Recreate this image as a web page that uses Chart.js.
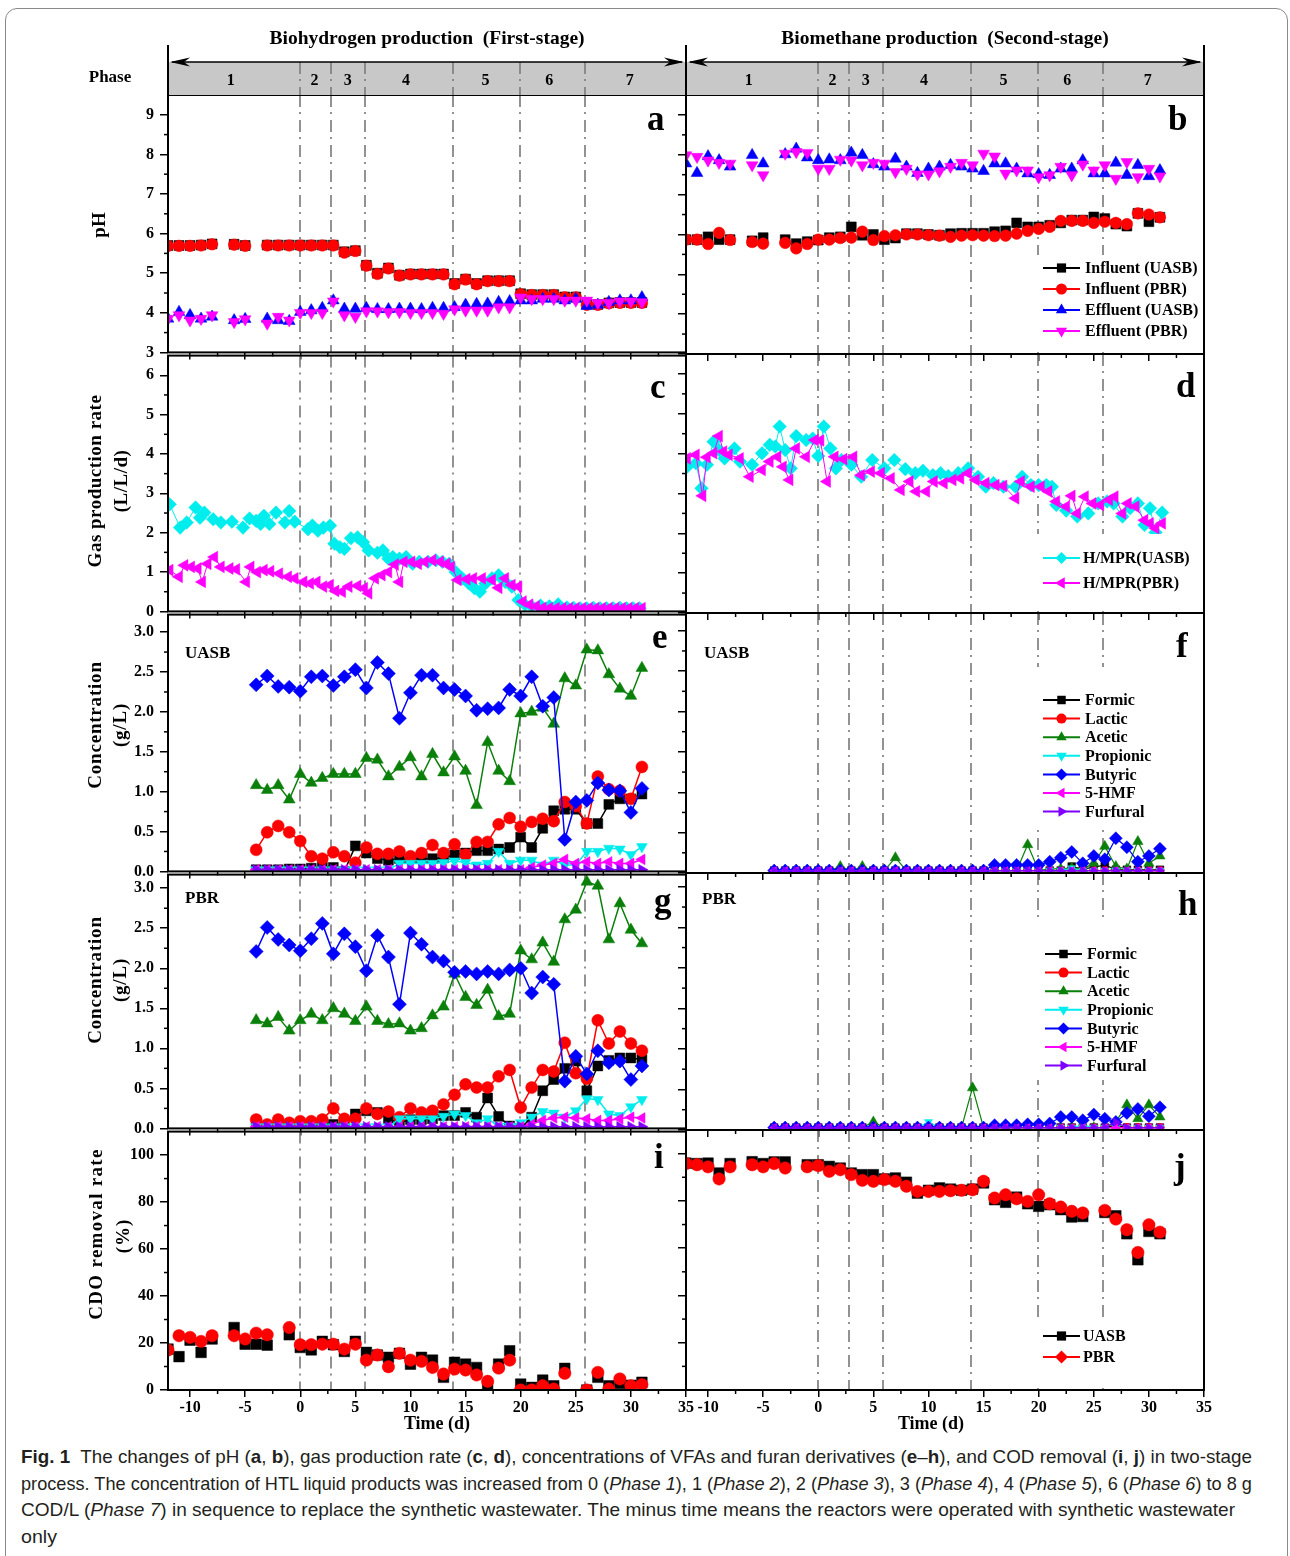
<!DOCTYPE html>
<html>
<head>
<meta charset="utf-8">
<title>Two-stage HTL process</title>
<script src="https://cdn.jsdelivr.net/npm/chart.js@4.4.1/dist/chart.umd.min.js"></script>
<style>
html, body { margin: 0; padding: 0; background: #fff; }
body { width: 1290px; height: 1556px; position: relative; overflow: hidden; }
#frame { position: absolute; left: 5px; top: 8px; width: 1283px; height: 1620px; border: 1px solid #8a8a8a; border-radius: 12px; box-sizing: border-box; }
canvas { position: absolute; }
#caption { position: absolute; left: 21px; top: 1444px; font-family: "Liberation Sans Narrow", "Liberation Sans", sans-serif; font-size: 19px; line-height: 26.7px; color: #231f20; white-space: nowrap; }
#caption .line { display: inline-block; transform-origin: 0 50%; }
#caption .fig { font-weight: bold; }
</style>
</head>
<body>
<div id="frame"></div>
<div id="caption"><span class="line" data-w="1231"><span class="fig">Fig. 1</span>&nbsp; The changes of pH (<b>a</b>, <b>b</b>), gas production rate (<b>c</b>, <b>d</b>), concentrations of VFAs and furan derivatives (<b>e</b>–<b>h</b>), and COD removal (<b>i</b>, <b>j</b>) in two-stage</span><br><span class="line" data-w="1231">process. The concentration of HTL liquid products was increased from 0 (<i>Phase 1</i>), 1 (<i>Phase 2</i>), 2 (<i>Phase 3</i>), 3 (<i>Phase 4</i>), 4 (<i>Phase 5</i>), 6 (<i>Phase 6</i>) to 8 g</span><br><span class="line" data-w="1214">COD/L (<i>Phase 7</i>) in sequence to replace the synthetic wastewater. The minus time means the reactors were operated with synthetic wastewater</span><br><span class="line" data-w="36">only</span></div>
<script>
'use strict';

// ============================================================================
// AXES / PHASES
// ============================================================================

const DAY_MIN = -12;
const DAY_MAX = 35;
const DAY_TICKS = [-10, -5, 0, 5, 10, 15, 20, 25, 30, 35];
const PHASE_BOUNDS = [0, 2.8, 5.9, 13.9, 19.95, 25.85];
const PHASE_NAMES = ['1', '2', '3', '4', '5', '6', '7'];
const PHASE_NAME_DAYS = [-6.3, 1.3, 4.3, 9.6, 16.8, 22.6, 29.9];

const PH_TICKS = [3, 4, 5, 6, 7, 8, 9];
const GAS_TICKS = [0, 1, 2, 3, 4, 5, 6];
const CONC_TICKS = [0, 0.5, 1, 1.5, 2, 2.5, 3];
const COD_TICKS = [0, 20, 40, 60, 80, 100];

// ============================================================================
// DATA
// ============================================================================

// pH, panels a / b
const PH_DAYS = [-12, -11, -10, -9, -8, -6, -5, -3, -2, -1, 0, 1, 2, 3, 4, 5, 6, 7, 8, 9, 10, 11, 12, 13, 14, 15, 16, 17, 18, 19, 20, 21, 22, 23, 24, 25, 26, 27, 28, 29, 30, 31];
const PH_INF_UASB_A = [5.70, 5.70, 5.70, 5.71, 5.74, 5.73, 5.70, 5.71, 5.71, 5.71, 5.71, 5.71, 5.71, 5.71, 5.54, 5.57, 5.20, 5.00, 5.13, 4.95, 4.98, 4.98, 4.98, 4.98, 4.74, 4.85, 4.74, 4.81, 4.81, 4.81, 4.48, 4.46, 4.46, 4.46, 4.40, 4.40, 4.22, 4.21, 4.25, 4.26, 4.26, 4.26];
const PH_INF_PBR_A = [5.69, 5.69, 5.69, 5.70, 5.73, 5.72, 5.69, 5.70, 5.70, 5.70, 5.70, 5.70, 5.70, 5.70, 5.52, 5.56, 5.19, 4.98, 5.12, 4.94, 4.97, 4.97, 4.97, 4.97, 4.72, 4.84, 4.72, 4.80, 4.80, 4.80, 4.47, 4.45, 4.45, 4.45, 4.39, 4.39, 4.20, 4.20, 4.24, 4.25, 4.25, 4.25];
const PH_EFF_UASB_A = [3.85, 4.02, 3.94, 3.85, 3.90, 3.81, 3.84, 3.85, 3.81, 3.79, 4.02, 4.06, 4.12, 4.31, 4.10, 4.10, 4.12, 4.09, 4.09, 4.10, 4.10, 4.09, 4.12, 4.12, 4.14, 4.20, 4.22, 4.23, 4.27, 4.29, 4.31, 4.31, 4.35, 4.35, 4.31, 4.35, 4.17, 4.20, 4.27, 4.31, 4.31, 4.39];
const PH_EFF_PBR_A = [3.85, 3.94, 3.81, 3.85, 3.94, 3.77, 3.84, 3.73, 3.90, 3.81, 4.00, 4.00, 4.00, 4.29, 3.94, 3.90, 4.04, 4.04, 4.02, 4.02, 4.00, 4.00, 4.00, 3.98, 4.09, 4.06, 4.06, 4.06, 4.14, 4.14, 4.39, 4.35, 4.35, 4.35, 4.31, 4.31, 4.31, 4.25, 4.25, 4.29, 4.29, 4.27];
const PH_INF_UASB_B = [5.87, 5.87, 5.94, 5.87, 5.87, 5.84, 5.92, 5.87, 5.77, 5.82, 5.86, 5.92, 5.94, 6.19, 5.98, 6.00, 5.87, 5.91, 6.02, 6.02, 6.00, 5.98, 6.02, 6.03, 6.03, 6.03, 6.07, 6.09, 6.29, 6.19, 6.19, 6.23, 6.29, 6.36, 6.36, 6.44, 6.40, 6.26, 6.21, 6.53, 6.32, 6.43];
const PH_INF_PBR_B = [5.87, 5.87, 5.76, 6.04, 5.86, 5.81, 5.77, 5.79, 5.65, 5.76, 5.87, 5.87, 5.91, 5.92, 6.07, 5.86, 5.96, 5.98, 6.00, 6.00, 5.98, 5.97, 5.94, 5.97, 5.98, 5.97, 5.96, 5.97, 6.02, 6.09, 6.14, 6.19, 6.34, 6.34, 6.34, 6.29, 6.32, 6.29, 6.26, 6.53, 6.50, 6.43];
const PH_EFF_UASB_B = [7.78, 7.54, 7.96, 7.86, 7.70, 7.99, 7.78, 8.01, 8.15, 7.93, 7.86, 7.88, 7.86, 8.05, 7.99, 7.76, 7.70, 7.90, 7.70, 7.54, 7.65, 7.70, 7.74, 7.70, 7.65, 7.59, 7.78, 7.78, 7.65, 7.53, 7.51, 7.49, 7.65, 7.65, 7.86, 7.53, 7.53, 7.80, 7.49, 7.74, 7.46, 7.61];
const PH_EFF_PBR_B = [7.99, 7.95, 7.86, 7.80, 7.78, 7.74, 7.49, 8.03, 8.07, 8.05, 7.65, 7.65, 7.88, 7.86, 7.74, 7.80, 7.78, 7.57, 7.65, 7.51, 7.51, 7.59, 7.70, 7.80, 7.74, 8.03, 7.96, 7.53, 7.61, 7.61, 7.44, 7.49, 7.70, 7.49, 7.76, 7.61, 7.74, 7.40, 7.82, 7.44, 7.65, 7.46];

// gas production rate, panel c (first stage)
const GAS_UASB_C_DAYS = [-11.85, -10.9, -10.3, -9.5, -9.1, -8.7, -7.9, -7.2, -6.2, -5.2, -4.6, -4.0, -3.6, -3.3, -2.8, -2.2, -1.4, -1.0, -0.5, 0.7, 1.1, 1.6, 2.1, 2.7, 3.1, 3.6, 4.0, 4.6, 5.2, 5.7, 6.2, 7.0, 7.5, 8.0, 8.4, 9.0, 9.6, 10.2, 10.8, 11.6, 12.3, 12.9, 13.5, 14.1, 14.7, 15.3, 15.8, 16.3, 16.8, 17.4, 18.0, 18.6, 19.2, 19.8, 20.4, 21.0, 21.8, 22.6, 23.4, 24.2, 24.8, 25.4, 26.0, 26.6, 27.2, 27.8, 28.4, 29.0, 29.6, 30.2, 30.8];
const GAS_UASB_C = [2.72, 2.13, 2.26, 2.64, 2.38, 2.51, 2.34, 2.26, 2.28, 2.13, 2.36, 2.30, 2.22, 2.43, 2.22, 2.51, 2.26, 2.55, 2.28, 2.09, 2.18, 2.05, 2.13, 2.18, 1.72, 1.63, 1.59, 1.86, 1.88, 1.76, 1.55, 1.49, 1.55, 1.34, 1.38, 1.34, 1.38, 1.21, 1.26, 1.26, 1.30, 1.26, 1.21, 1.00, 0.84, 0.71, 0.59, 0.50, 0.71, 0.84, 0.92, 0.75, 0.63, 0.29, 0.17, 0.13, 0.15, 0.13, 0.18, 0.10, 0.09, 0.08, 0.08, 0.09, 0.08, 0.08, 0.08, 0.09, 0.08, 0.08, 0.08];
const GAS_PBR_C_DAYS = [-11.85, -11.0, -10.5, -9.9, -9.3, -8.9, -8.4, -7.8, -7.2, -6.4, -5.8, -4.9, -4.5, -3.9, -3.3, -2.7, -1.9, -1.1, -0.5, 0.3, 0.9, 1.5, 2.1, 2.7, 3.2, 3.8, 4.4, 5.2, 5.8, 6.2, 6.8, 7.4, 8.0, 8.6, 9.0, 9.4, 10.1, 10.7, 11.3, 12.0, 12.7, 13.3, 13.7, 14.3, 15.1, 15.7, 16.5, 17.4, 18.0, 18.6, 19.2, 19.8, 20.2, 20.8, 21.4, 22.0, 22.6, 23.2, 23.8, 24.4, 25.0, 25.6, 26.2, 26.8, 27.4, 28.0, 28.6, 29.2, 29.8, 30.4, 31.0];
const GAS_PBR_C = [1.05, 0.88, 1.17, 1.13, 1.09, 0.75, 1.21, 1.38, 1.13, 1.09, 1.07, 0.75, 1.13, 1.00, 1.05, 1.02, 0.96, 0.88, 0.84, 0.75, 0.71, 0.75, 0.63, 0.67, 0.52, 0.50, 0.63, 0.65, 0.59, 0.46, 0.84, 0.92, 1.00, 1.19, 0.75, 1.26, 1.26, 1.21, 1.26, 1.30, 1.26, 1.21, 1.13, 0.80, 0.82, 0.84, 0.84, 0.80, 0.60, 0.84, 0.67, 0.63, 0.25, 0.17, 0.13, 0.09, 0.08, 0.08, 0.08, 0.08, 0.08, 0.08, 0.08, 0.08, 0.08, 0.08, 0.08, 0.08, 0.08, 0.08, 0.08];

// gas production rate, panel d (second stage)
const GAS_UASB_D_DAYS = [-11.9, -11.1, -10.6, -10.1, -9.5, -9.0, -8.5, -7.6, -7.1, -6.0, -5.1, -4.4, -3.9, -3.5, -3.0, -2.5, -2.0, -1.1, -0.5, 0.0, 0.5, 1.1, 1.6, 2.1, 3.0, 3.9, 4.9, 6.0, 6.9, 7.9, 8.8, 9.5, 10.4, 11.1, 11.8, 12.7, 13.6, 14.5, 15.2, 15.9, 16.8, 17.9, 18.5, 19.3, 20.0, 20.7, 21.2, 21.6, 22.5, 23.5, 24.5, 25.4, 26.2, 26.8, 27.6, 28.3, 29.0, 29.6, 30.1, 30.6, 31.2];
const GAS_UASB_D = [3.67, 3.76, 3.13, 3.72, 4.30, 4.09, 3.88, 4.13, 3.80, 3.72, 4.01, 4.22, 4.18, 4.68, 4.09, 3.63, 4.44, 4.34, 4.38, 3.94, 4.68, 4.13, 3.63, 3.84, 3.72, 3.42, 3.84, 3.63, 3.84, 3.61, 3.51, 3.57, 3.46, 3.51, 3.44, 3.51, 3.63, 3.42, 3.17, 3.26, 3.17, 3.17, 3.42, 3.21, 3.21, 3.21, 3.17, 2.71, 2.57, 2.42, 2.50, 2.75, 2.80, 2.75, 2.42, 2.63, 2.75, 2.21, 2.63, 2.02, 2.52];
const GAS_PBR_D_DAYS = [-11.9, -11.1, -10.5, -10.1, -9.5, -9.0, -8.6, -8.1, -7.1, -6.2, -5.1, -4.4, -3.7, -3.2, -2.6, -2.0, -1.1, -0.3, 0.2, 0.8, 1.5, 2.3, 3.2, 3.9, 4.8, 5.7, 6.6, 7.5, 8.3, 8.9, 9.8, 10.5, 11.4, 12.2, 12.9, 13.6, 14.3, 15.2, 16.1, 16.8, 17.9, 18.4, 19.3, 20.2, 20.9, 21.6, 22.5, 23.0, 23.5, 24.2, 24.9, 25.6, 26.4, 26.9, 27.6, 28.1, 28.8, 29.6, 30.1, 30.6, 31.2];
const GAS_PBR_D = [3.88, 3.97, 2.94, 3.91, 4.01, 4.44, 4.05, 3.97, 3.88, 3.42, 3.59, 3.80, 3.92, 3.67, 3.34, 4.13, 3.92, 4.34, 4.33, 3.30, 3.92, 3.86, 3.92, 3.46, 3.55, 3.51, 3.38, 3.09, 3.30, 3.05, 3.05, 3.30, 3.26, 3.34, 3.38, 3.51, 3.34, 3.26, 3.21, 3.19, 2.88, 3.30, 3.17, 3.17, 3.05, 2.80, 2.67, 2.94, 2.50, 2.92, 2.75, 2.71, 2.84, 2.92, 2.50, 2.75, 2.67, 2.33, 2.25, 2.13, 2.25];

// VFAs and furans, panels e-h
const VFA_DAYS = [-4, -3, -2, -1, 0, 1, 2, 3, 4, 5, 6, 7, 8, 9, 10, 11, 12, 13, 14, 15, 16, 17, 18, 19, 20, 21, 22, 23, 24, 25, 26, 27, 28, 29, 30, 31];

const FORMIC_E = [0.02, 0.02, 0.02, 0.03, 0.03, 0.04, 0.06, 0.05, 0.00, 0.32, 0.23, 0.16, 0.14, 0.16, 0.16, 0.16, 0.16, 0.17, 0.21, 0.23, 0.26, 0.26, 0.28, 0.30, 0.43, 0.30, 0.54, 0.76, 0.78, 0.78, 0.60, 0.60, 0.84, 0.91, 0.91, 0.97];
const LACTIC_E = [0.27, 0.49, 0.57, 0.49, 0.38, 0.19, 0.16, 0.24, 0.19, 0.11, 0.30, 0.22, 0.22, 0.25, 0.19, 0.23, 0.33, 0.23, 0.34, 0.21, 0.37, 0.37, 0.59, 0.67, 0.56, 0.62, 0.66, 0.63, 0.87, 0.82, 0.60, 1.19, 1.03, 1.01, 0.91, 1.31];
const ACETIC_E = [1.08, 1.02, 1.08, 0.90, 1.22, 1.11, 1.17, 1.22, 1.22, 1.22, 1.42, 1.40, 1.19, 1.31, 1.43, 1.19, 1.47, 1.24, 1.44, 1.26, 0.83, 1.62, 1.26, 1.13, 1.98, 2.00, 2.05, 1.85, 2.42, 2.33, 2.78, 2.77, 2.47, 2.29, 2.20, 2.55];
const PROPIONIC_E = [0.02, 0.02, 0.02, 0.02, 0.02, 0.02, 0.02, 0.02, 0.02, 0.02, 0.02, 0.02, 0.02, 0.10, 0.10, 0.10, 0.10, 0.11, 0.13, 0.11, 0.08, 0.10, 0.25, 0.10, 0.14, 0.14, 0.08, 0.14, 0.08, 0.08, 0.25, 0.25, 0.29, 0.28, 0.21, 0.31];
const BUTYRIC_E = [2.34, 2.45, 2.32, 2.31, 2.26, 2.44, 2.45, 2.33, 2.44, 2.53, 2.30, 2.62, 2.48, 1.92, 2.24, 2.46, 2.46, 2.30, 2.28, 2.20, 2.02, 2.04, 2.05, 2.28, 2.20, 2.44, 2.07, 2.18, 0.40, 0.87, 0.89, 1.11, 1.02, 1.01, 0.74, 1.04];
const HMF_E = [0.02, 0.02, 0.02, 0.02, 0.02, 0.02, 0.02, 0.02, 0.02, 0.02, 0.02, 0.02, 0.02, 0.02, 0.02, 0.02, 0.02, 0.02, 0.02, 0.02, 0.02, 0.02, 0.02, 0.02, 0.02, 0.05, 0.08, 0.10, 0.15, 0.10, 0.12, 0.10, 0.12, 0.10, 0.10, 0.15];
const FURFURAL_E = [0.02, 0.02, 0.02, 0.02, 0.02, 0.02, 0.02, 0.02, 0.02, 0.02, 0.02, 0.02, 0.02, 0.02, 0.02, 0.02, 0.02, 0.02, 0.02, 0.02, 0.02, 0.02, 0.02, 0.02, 0.02, 0.02, 0.02, 0.02, 0.02, 0.02, 0.02, 0.02, 0.02, 0.02, 0.02, 0.02];

const FORMIC_G = [0.02, 0.02, 0.02, 0.02, 0.02, 0.03, 0.07, 0.05, 0.07, 0.18, 0.22, 0.20, 0.12, 0.07, 0.11, 0.11, 0.12, 0.16, 0.16, 0.20, 0.14, 0.38, 0.15, 0.03, 0.00, 0.14, 0.47, 0.61, 0.75, 0.84, 0.47, 0.78, 0.85, 0.88, 0.88, 0.86];
const LACTIC_G = [0.11, 0.05, 0.11, 0.07, 0.09, 0.09, 0.11, 0.25, 0.12, 0.12, 0.25, 0.18, 0.21, 0.14, 0.25, 0.20, 0.22, 0.30, 0.42, 0.55, 0.51, 0.51, 0.65, 0.73, 0.26, 0.51, 0.73, 0.71, 1.07, 0.69, 0.62, 1.35, 1.06, 1.21, 1.06, 0.97];
const ACETIC_G = [1.35, 1.31, 1.39, 1.22, 1.35, 1.43, 1.35, 1.50, 1.43, 1.34, 1.52, 1.34, 1.30, 1.31, 1.22, 1.25, 1.41, 1.52, 1.93, 1.64, 1.54, 1.73, 1.40, 1.43, 2.22, 2.11, 2.32, 2.08, 2.61, 2.73, 3.08, 3.03, 2.36, 2.81, 2.48, 2.31];
const PROPIONIC_G = [0.02, 0.02, 0.02, 0.02, 0.02, 0.02, 0.02, 0.02, 0.02, 0.02, 0.02, 0.02, 0.02, 0.12, 0.12, 0.12, 0.12, 0.15, 0.18, 0.16, 0.07, 0.12, 0.03, 0.03, 0.07, 0.14, 0.21, 0.19, 0.14, 0.22, 0.37, 0.36, 0.18, 0.16, 0.27, 0.36];
const BUTYRIC_G = [2.21, 2.51, 2.36, 2.29, 2.22, 2.37, 2.56, 2.18, 2.43, 2.27, 1.97, 2.41, 2.14, 1.55, 2.44, 2.30, 2.14, 2.09, 1.95, 1.96, 1.93, 1.96, 1.93, 1.98, 2.00, 1.69, 1.89, 1.80, 0.59, 0.90, 0.68, 0.97, 0.82, 0.84, 0.61, 0.78];
const HMF_G = [0.02, 0.02, 0.02, 0.02, 0.02, 0.02, 0.02, 0.02, 0.02, 0.02, 0.02, 0.02, 0.02, 0.02, 0.02, 0.02, 0.02, 0.02, 0.02, 0.02, 0.02, 0.02, 0.02, 0.02, 0.02, 0.05, 0.10, 0.13, 0.14, 0.13, 0.12, 0.10, 0.10, 0.12, 0.14, 0.13];
const FURFURAL_G = [0.02, 0.02, 0.02, 0.02, 0.02, 0.02, 0.02, 0.02, 0.02, 0.02, 0.02, 0.02, 0.02, 0.02, 0.02, 0.02, 0.02, 0.02, 0.02, 0.02, 0.02, 0.02, 0.02, 0.02, 0.02, 0.02, 0.02, 0.02, 0.02, 0.02, 0.02, 0.02, 0.02, 0.02, 0.02, 0.02];

const FORMIC_F = [0.03, 0.03, 0.03, 0.03, 0.03, 0.03, 0.03, 0.03, 0.03, 0.03, 0.03, 0.03, 0.03, 0.03, 0.03, 0.03, 0.03, 0.03, 0.03, 0.03, 0.03, 0.03, 0.03, 0.03, 0.03, 0.03, 0.03, 0.08, 0.05, 0.07, 0.10, 0.04, 0.04, 0.04, 0.04, 0.04];
const LACTIC_F = [0.03, 0.03, 0.03, 0.03, 0.03, 0.03, 0.03, 0.03, 0.03, 0.03, 0.03, 0.03, 0.03, 0.03, 0.03, 0.03, 0.03, 0.03, 0.03, 0.03, 0.03, 0.03, 0.03, 0.03, 0.03, 0.03, 0.03, 0.03, 0.03, 0.03, 0.03, 0.03, 0.03, 0.03, 0.03, 0.03];
const ACETIC_F = [0.03, 0.03, 0.03, 0.03, 0.03, 0.03, 0.08, 0.03, 0.08, 0.03, 0.03, 0.19, 0.03, 0.03, 0.03, 0.03, 0.03, 0.03, 0.03, 0.03, 0.03, 0.03, 0.03, 0.35, 0.03, 0.05, 0.05, 0.06, 0.05, 0.12, 0.33, 0.08, 0.05, 0.39, 0.12, 0.21];
const PROPIONIC_F = [0.03, 0.03, 0.03, 0.03, 0.03, 0.03, 0.03, 0.03, 0.03, 0.03, 0.03, 0.03, 0.03, 0.03, 0.03, 0.03, 0.03, 0.03, 0.03, 0.03, 0.03, 0.03, 0.03, 0.03, 0.03, 0.03, 0.03, 0.06, 0.03, 0.03, 0.03, 0.03, 0.03, 0.03, 0.03, 0.03];
const BUTYRIC_F = [0.03, 0.03, 0.03, 0.03, 0.03, 0.03, 0.03, 0.03, 0.03, 0.03, 0.03, 0.03, 0.03, 0.03, 0.03, 0.03, 0.03, 0.03, 0.03, 0.03, 0.10, 0.10, 0.10, 0.10, 0.10, 0.14, 0.19, 0.26, 0.12, 0.21, 0.17, 0.43, 0.32, 0.14, 0.21, 0.30];
const HMF_F = [0.03, 0.03, 0.03, 0.03, 0.03, 0.03, 0.03, 0.03, 0.03, 0.03, 0.03, 0.03, 0.03, 0.03, 0.03, 0.03, 0.03, 0.03, 0.03, 0.03, 0.03, 0.03, 0.03, 0.03, 0.03, 0.03, 0.03, 0.03, 0.03, 0.03, 0.03, 0.03, 0.03, 0.03, 0.03, 0.03];
const FURFURAL_F = [0.03, 0.03, 0.03, 0.03, 0.03, 0.03, 0.03, 0.03, 0.03, 0.03, 0.03, 0.03, 0.03, 0.03, 0.03, 0.03, 0.03, 0.03, 0.03, 0.03, 0.03, 0.03, 0.03, 0.03, 0.03, 0.03, 0.03, 0.03, 0.03, 0.03, 0.03, 0.03, 0.03, 0.03, 0.03, 0.03];

const FORMIC_H = [0.03, 0.03, 0.03, 0.03, 0.03, 0.03, 0.03, 0.03, 0.03, 0.03, 0.03, 0.03, 0.03, 0.03, 0.03, 0.03, 0.03, 0.03, 0.03, 0.03, 0.03, 0.03, 0.03, 0.03, 0.03, 0.03, 0.03, 0.03, 0.03, 0.03, 0.03, 0.06, 0.03, 0.03, 0.03, 0.03];
const LACTIC_H = [0.03, 0.03, 0.03, 0.03, 0.03, 0.03, 0.03, 0.03, 0.03, 0.03, 0.03, 0.03, 0.03, 0.03, 0.03, 0.03, 0.03, 0.03, 0.03, 0.03, 0.03, 0.03, 0.03, 0.03, 0.03, 0.03, 0.03, 0.03, 0.03, 0.03, 0.03, 0.03, 0.03, 0.03, 0.03, 0.03];
const ACETIC_H = [0.03, 0.03, 0.03, 0.03, 0.03, 0.03, 0.03, 0.03, 0.03, 0.10, 0.03, 0.03, 0.03, 0.03, 0.03, 0.03, 0.03, 0.03, 0.52, 0.03, 0.03, 0.03, 0.03, 0.03, 0.03, 0.03, 0.03, 0.03, 0.03, 0.03, 0.03, 0.10, 0.31, 0.14, 0.31, 0.16];
const PROPIONIC_H = [0.03, 0.03, 0.03, 0.03, 0.03, 0.03, 0.03, 0.03, 0.03, 0.03, 0.03, 0.03, 0.03, 0.03, 0.10, 0.03, 0.03, 0.03, 0.03, 0.03, 0.03, 0.03, 0.03, 0.03, 0.03, 0.03, 0.03, 0.03, 0.06, 0.03, 0.03, 0.03, 0.03, 0.03, 0.03, 0.03];
const BUTYRIC_H = [0.03, 0.03, 0.03, 0.03, 0.03, 0.03, 0.03, 0.03, 0.03, 0.03, 0.03, 0.03, 0.03, 0.03, 0.03, 0.03, 0.03, 0.03, 0.03, 0.03, 0.06, 0.06, 0.06, 0.07, 0.07, 0.08, 0.16, 0.16, 0.12, 0.19, 0.14, 0.10, 0.21, 0.26, 0.17, 0.28];
const HMF_H = [0.03, 0.03, 0.03, 0.03, 0.03, 0.03, 0.03, 0.03, 0.03, 0.03, 0.03, 0.03, 0.03, 0.03, 0.03, 0.03, 0.03, 0.03, 0.03, 0.03, 0.03, 0.03, 0.03, 0.03, 0.03, 0.03, 0.03, 0.03, 0.03, 0.03, 0.03, 0.03, 0.03, 0.03, 0.03, 0.03];
const FURFURAL_H = [0.03, 0.03, 0.03, 0.03, 0.03, 0.03, 0.03, 0.03, 0.03, 0.03, 0.03, 0.03, 0.03, 0.03, 0.03, 0.03, 0.03, 0.03, 0.03, 0.03, 0.03, 0.03, 0.03, 0.03, 0.03, 0.03, 0.03, 0.03, 0.03, 0.03, 0.03, 0.10, 0.03, 0.03, 0.03, 0.03];

// COD removal, panels i / j
const COD_DAYS = [-12, -11, -10, -9, -8, -6, -5, -4, -3, -1, 0, 1, 2, 3, 4, 5, 6, 7, 8, 9, 10, 11, 12, 13, 14, 15, 16, 17, 18, 19, 20, 21, 22, 23, 24, 26, 27, 28, 29, 30, 31];
const COD_UASB_I = [17.4, 14.2, 21.2, 16.0, 21.7, 26.6, 19.5, 19.5, 19.1, 23.5, 18.1, 17.1, 20.7, 19.3, 16.4, 20.7, 16.0, 14.9, 13.9, 15.6, 11.0, 13.9, 12.7, 5.4, 11.8, 11.0, 9.6, 1.4, 11.0, 16.7, 2.5, 1.1, 4.2, 1.8, 9.2, 0.0, 5.4, 1.8, 2.8, 2.0, 3.3];
const COD_PBR_I = [17.0, 23.1, 22.4, 20.7, 23.1, 23.1, 21.7, 24.2, 23.5, 26.6, 19.3, 19.3, 19.5, 19.5, 17.4, 19.5, 12.7, 14.9, 9.9, 15.6, 12.7, 12.2, 9.6, 6.8, 8.9, 8.5, 6.4, 3.7, 9.3, 12.7, 0.0, 0.0, 1.8, 0.4, 7.1, 0.0, 7.5, 0.4, 4.7, 1.8, 2.3];
const COD_UASB_J = [96.0, 95.8, 96.0, 91.8, 95.8, 96.6, 95.8, 96.5, 96.5, 95.3, 95.3, 94.6, 93.9, 91.8, 91.1, 91.1, 89.3, 89.7, 87.9, 83.3, 84.5, 85.5, 85.0, 84.5, 85.0, 87.6, 80.5, 79.4, 81.6, 78.8, 77.7, 78.4, 76.3, 73.2, 73.4, 75.1, 73.7, 66.1, 55.1, 67.1, 66.1];
const COD_PBR_J = [95.8, 95.3, 94.4, 89.3, 94.4, 95.3, 94.4, 95.8, 93.9, 94.4, 94.9, 92.5, 93.2, 91.1, 88.7, 88.3, 89.0, 88.3, 86.2, 84.0, 84.0, 84.0, 84.3, 84.5, 84.7, 88.3, 81.2, 82.6, 80.9, 79.8, 82.6, 78.8, 77.4, 75.6, 74.9, 76.0, 72.3, 67.8, 58.2, 69.9, 66.8];

// ============================================================================
// STYLE
// ============================================================================

const SERIF = '"Liberation Serif", "Times New Roman", serif';
const BLACK = '#000000';
const RED = '#ff0000';
const BLUE = '#0000ff';
const MAGENTA = '#ff00ff';
const GREEN = '#0a800a';
const CYAN = '#00eded';
const PURPLE = '#7f00ff';
const GUIDE_GRAY = '#808080';
const GUIDE_DASH = [12, 5, 2, 6];

const ROW_EDGES = [[95, 354], [354, 613], [613, 873], [873, 1130], [1130, 1390]];

/**
 * Builds one scatter dataset from parallel x / y arrays.
 */
function series(label, xs, ys, color, shape, rot, r, lw, order) {
    return {
        label,
        data: xs.map((x, i) => ({ x, y: ys[i] })),
        borderColor: color,
        backgroundColor: color,
        pointBackgroundColor: color,
        pointBorderColor: color,
        pointStyle: shape,
        pointRotation: rot,
        pointRadius: r,
        pointBorderWidth: 0.5,
        showLine: lw > 0,
        borderWidth: lw,
        tension: 0,
        order
    };
}

function vfaSet(vals, small) {
    const r = small ? 4.6 : 6.2;
    const lw = small ? 1.2 : 1.5;
    return [
        series('Formic', VFA_DAYS, vals[0], BLACK, 'rect', 0, small ? 5.5 : 7, lw, 0),
        series('Lactic', VFA_DAYS, vals[1], RED, 'circle', 0, small ? 4.2 : 6, lw, -1),
        series('Acetic', VFA_DAYS, vals[2], GREEN, 'triangle', 0, small ? 6 : 6.8, lw, -2),
        series('Propionic', VFA_DAYS, vals[3], CYAN, 'triangle', 180, r, lw, -3),
        series('Butyric', VFA_DAYS, vals[4], BLUE, 'rectRot', 0, small ? 6.5 : 7, lw, -4),
        series('5-HMF', VFA_DAYS, vals[5], MAGENTA, 'triangle', 270, r, lw, -5),
        series('Furfural', VFA_DAYS, vals[6], PURPLE, 'triangle', 90, r, lw, -6)
    ];
}

const VFA_LEGEND = [
    { label: 'Formic', color: BLACK, shape: 'rect', rot: 0, r: 6 },
    { label: 'Lactic', color: RED, shape: 'circle', rot: 0, r: 5 },
    { label: 'Acetic', color: GREEN, shape: 'triangle', rot: 0, r: 6 },
    { label: 'Propionic', color: CYAN, shape: 'triangle', rot: 180, r: 6 },
    { label: 'Butyric', color: BLUE, shape: 'rectRot', rot: 0, r: 6 },
    { label: '5-HMF', color: MAGENTA, shape: 'triangle', rot: 270, r: 6 },
    { label: 'Furfural', color: PURPLE, shape: 'triangle', rot: 90, r: 6 }
];

// ============================================================================
// DECORATION PLUGIN (phase guides, minor ticks, frame, header, legend, text)
// ============================================================================

function strokeLine(ctx, x1, y1, x2, y2) {
    ctx.beginPath();
    ctx.moveTo(x1, y1);
    ctx.lineTo(x2, y2);
    ctx.stroke();
}

function isMajor(v, majors) {
    return majors.some(t => Math.abs(t - v) < 1e-6);
}

function drawGuides(ctx, x, yTop, yBottom) {
    ctx.save();
    ctx.strokeStyle = GUIDE_GRAY;
    ctx.lineWidth = 1.7;
    ctx.setLineDash(GUIDE_DASH);
    PHASE_BOUNDS.forEach(v => {
        const px = Math.round(x.getPixelForValue(v));
        strokeLine(ctx, px, yTop, px, yBottom);
    });
    ctx.restore();
}

function decorPlugin(cfg, originX, originY) {
    return {
        id: 'panelDecor',
        beforeDatasetsDraw(chart) {
            const { ctx, chartArea: ca, scales: { x } } = chart;
            drawGuides(ctx, x, ca.top, ca.bottom);
        },
        afterDraw(chart) {
            const { ctx, chartArea: ca, scales: { x, y } } = chart;
            ctx.save();

            // minor ticks
            ctx.strokeStyle = '#000';
            ctx.lineWidth = 1.5;
            for (let k = Math.ceil(DAY_MIN / 2.5); k * 2.5 < DAY_MAX; k++) {
                const v = k * 2.5;
                if (v <= DAY_MIN || isMajor(v, DAY_TICKS)) continue;
                const px = x.getPixelForValue(v);
                strokeLine(ctx, px, ca.bottom, px, ca.bottom + 4);
            }
            for (let k = Math.ceil(cfg.yMin / cfg.yMinor); k * cfg.yMinor < cfg.yMax - 1e-6; k++) {
                const v = k * cfg.yMinor;
                if (v <= cfg.yMin + 1e-6 || isMajor(v, cfg.yTicks)) continue;
                const py = y.getPixelForValue(v);
                strokeLine(ctx, ca.left - 4, py, ca.left, py);
            }

            // frame
            ctx.lineWidth = 2;
            ctx.strokeRect(ca.left, ca.top, ca.right - ca.left, ca.bottom - ca.top);

            // phase header above the top row
            if (cfg.header) {
                const barTop = ca.top - 33;
                ctx.fillStyle = '#c8c8c8';
                ctx.fillRect(ca.left, barTop, ca.right - ca.left, ca.top - barTop);
                drawGuides(ctx, x, barTop, ca.top);
                ctx.strokeStyle = '#000';
                ctx.lineWidth = 2;
                strokeLine(ctx, ca.left, ca.top - 50, ca.left, ca.top);
                strokeLine(ctx, ca.right, ca.top - 50, ca.right, ca.top);
                ctx.lineWidth = 1.5;
                strokeLine(ctx, ca.left + 4, barTop, ca.right - 4, barTop);
                ctx.fillStyle = '#000';
                [[ca.left + 2, 1], [ca.right - 2, -1]].forEach(([tip, dir]) => {
                    ctx.beginPath();
                    ctx.moveTo(tip, barTop);
                    ctx.lineTo(tip + dir * 20, barTop - 4.5);
                    ctx.lineTo(tip + dir * 14, barTop);
                    ctx.lineTo(tip + dir * 20, barTop + 4.5);
                    ctx.closePath();
                    ctx.fill();
                });
                ctx.font = 'bold 16px ' + SERIF;
                ctx.textAlign = 'center';
                ctx.textBaseline = 'alphabetic';
                PHASE_NAMES.forEach((p, i) => {
                    ctx.fillText(p, x.getPixelForValue(PHASE_NAME_DAYS[i]), ca.top - 10);
                });
                ctx.font = 'bold 19.5px ' + SERIF;
                ctx.fillText(cfg.header, (ca.left + ca.right) / 2, ca.top - 51);
                if (cfg.phaseWord) {
                    ctx.font = 'bold 17px ' + SERIF;
                    ctx.fillText('Phase', 110 - originX, ca.top - 13);
                }
            }

            // in-plot legend on a white box
            if (cfg.legend) {
                const L = cfg.legend;
                ctx.fillStyle = '#fff';
                ctx.fillRect(ca.left + L.box[0], ca.top + L.box[1], L.box[2] - L.box[0], L.box[3] - L.box[1]);
                L.items.forEach((it, i) => {
                    const ly = ca.top + L.y + i * L.dy;
                    ctx.strokeStyle = it.color;
                    ctx.lineWidth = 2;
                    strokeLine(ctx, ca.left + L.x0, ly, ca.left + L.x1, ly);
                    ctx.fillStyle = it.color;
                    Chart.helpers.drawPoint(ctx, { pointStyle: it.shape, rotation: it.rot, radius: it.r, borderWidth: 0 }, ca.left + (L.x0 + L.x1) / 2, ly);
                    ctx.fillStyle = '#000';
                    ctx.font = 'bold 16px ' + SERIF;
                    ctx.textAlign = 'left';
                    ctx.textBaseline = 'middle';
                    ctx.fillText(it.label, ca.left + L.tx, ly + 1);
                });
            }

            // free text in page coordinates
            (cfg.texts || []).forEach(t => {
                ctx.save();
                ctx.fillStyle = '#000';
                ctx.font = t.font + ' ' + SERIF;
                ctx.textAlign = t.align || 'left';
                ctx.textBaseline = t.base || 'alphabetic';
                if (t.spacing) ctx.letterSpacing = t.spacing;
                ctx.translate(t.x - originX, t.y - originY);
                if (t.rot) ctx.rotate(t.rot * Math.PI / 180);
                ctx.fillText(t.t, 0, 0);
                ctx.restore();
            });
            ctx.restore();
        }
    };
}

// ============================================================================
// PANEL FACTORY
// ============================================================================

function makePanel(cfg) {
    const [x0, x1] = cfg.col === 0 ? [168, 686] : [686, 1204];
    const [y0, y1] = ROW_EDGES[cfg.row];
    const axisW = cfg.col === 0 ? 168 : 10;
    const padTop = cfg.padTop || 14;
    const padRight = 24;
    const bottomH = cfg.row === 4 ? 52 : 14;
    const left = x0 - axisW;
    const top = y0 - padTop;
    const w = axisW + (x1 - x0) + padRight;
    const h = padTop + (y1 - y0) + bottomH;

    const canvas = document.createElement('canvas');
    canvas.width = w;
    canvas.height = h;
    Object.assign(canvas.style, { left: left + 'px', top: top + 'px', width: w + 'px', height: h + 'px' });
    document.body.appendChild(canvas);

    const tickFont = { family: SERIF, size: 16, weight: 'bold' };
    const gridOpts = (len) => ({ drawOnChartArea: false, drawTicks: true, tickLength: len, lineWidth: 1.5, tickWidth: 1.5, color: '#000', tickColor: '#000' });

    return new Chart(canvas.getContext('2d'), {
        type: 'scatter',
        data: { datasets: cfg.datasets },
        options: {
            responsive: false,
            animation: false,
            devicePixelRatio: 1,
            events: [],
            layout: { autoPadding: false, padding: { top: padTop, right: padRight, left: 0, bottom: 0 } },
            plugins: { legend: { display: false }, tooltip: { enabled: false } },
            scales: {
                x: {
                    type: 'linear',
                    position: 'bottom',
                    min: DAY_MIN,
                    max: DAY_MAX,
                    afterBuildTicks: s => { s.ticks = DAY_TICKS.map(v => ({ value: v })); },
                    afterFit: s => { s.height = bottomH; },
                    border: { display: false },
                    grid: gridOpts(7),
                    ticks: { display: cfg.row === 4, autoSkip: false, maxRotation: 0, padding: 1, color: '#000', font: tickFont }
                },
                y: {
                    type: 'linear',
                    position: 'left',
                    min: cfg.yMin,
                    max: cfg.yMax,
                    afterBuildTicks: s => { s.ticks = cfg.yTicks.map(v => ({ value: v })); },
                    afterFit: s => { s.width = axisW; },
                    border: { display: false },
                    grid: gridOpts(8),
                    ticks: {
                        display: cfg.col === 0,
                        autoSkip: false,
                        padding: 6,
                        color: '#000',
                        font: tickFont,
                        callback: v => (cfg.decimals ? Number(v).toFixed(1) : String(v))
                    }
                }
            }
        },
        plugins: [decorPlugin(cfg, left, top)]
    });
}

// ============================================================================
// PANELS
// ============================================================================

const PH_LEGEND = [
    { label: 'Influent (UASB)', color: BLACK, shape: 'rect', rot: 0, r: 6.5 },
    { label: 'Influent (PBR)', color: RED, shape: 'circle', rot: 0, r: 5.5 },
    { label: 'Effluent (UASB)', color: BLUE, shape: 'triangle', rot: 0, r: 6.5 },
    { label: 'Effluent (PBR)', color: MAGENTA, shape: 'triangle', rot: 180, r: 6.5 }
];

function phSets(a, b, c, d) {
    return [
        series('Influent (UASB)', PH_DAYS, a, BLACK, 'rect', 0, 7, 0, 0),
        series('Influent (PBR)', PH_DAYS, b, RED, 'circle', 0, 5.8, 0, -1),
        series('Effluent (UASB)', PH_DAYS, c, BLUE, 'triangle', 0, 6.8, 0, -2),
        series('Effluent (PBR)', PH_DAYS, d, MAGENTA, 'triangle', 180, 6.8, 0, -3)
    ];
}

// a
makePanel({
    col: 0, row: 0, padTop: 75, yMin: 3, yMax: 9.5, yTicks: PH_TICKS, yMinor: 0.5,
    header: 'Biohydrogen production  (First-stage)', phaseWord: true,
    datasets: phSets(PH_INF_UASB_A, PH_INF_PBR_A, PH_EFF_UASB_A, PH_EFF_PBR_A),
    texts: [
        { t: 'pH', x: 100, y: 225, font: 'bold 19px', rot: -90, align: 'center', base: 'middle' },
        { t: 'a', x: 647, y: 130, font: 'bold 35px' }
    ]
});
// b
makePanel({
    col: 1, row: 0, padTop: 75, yMin: 3, yMax: 9.5, yTicks: PH_TICKS, yMinor: 0.5,
    header: 'Biomethane production  (Second-stage)',
    datasets: phSets(PH_INF_UASB_B, PH_INF_PBR_B, PH_EFF_UASB_B, PH_EFF_PBR_B),
    legend: { box: [346, 160, 516, 257], x0: 357, x1: 394, tx: 399, y: 173, dy: 21, items: PH_LEGEND },
    texts: [{ t: 'b', x: 1168, y: 130, font: 'bold 35px' }]
});

// c
makePanel({
    col: 0, row: 1, yMin: 0, yMax: 6.5, yTicks: GAS_TICKS, yMinor: 0.5,
    datasets: [
        series('H/MPR(UASB)', GAS_UASB_C_DAYS, GAS_UASB_C, CYAN, 'rectRot', 0, 6.8, 1, 0),
        series('H/MPR(PBR)', GAS_PBR_C_DAYS, GAS_PBR_C, MAGENTA, 'triangle', 270, 6.8, 1, -1)
    ],
    texts: [
        { t: 'Gas production rate', x: 96, y: 481, font: 'bold 19px', rot: -90, align: 'center', base: 'middle', spacing: '0.5px' },
        { t: '(L/L/d)', x: 122, y: 481, font: 'bold 19px', rot: -90, align: 'center', base: 'middle', spacing: '0.5px' },
        { t: 'c', x: 650, y: 398, font: 'bold 35px' }
    ]
});
// d
makePanel({
    col: 1, row: 1, yMin: 0, yMax: 6.5, yTicks: GAS_TICKS, yMinor: 0.5,
    datasets: [
        series('H/MPR(UASB)', GAS_UASB_D_DAYS, GAS_UASB_D, CYAN, 'rectRot', 0, 6.8, 1, 0),
        series('H/MPR(PBR)', GAS_PBR_D_DAYS, GAS_PBR_D, MAGENTA, 'triangle', 270, 6.8, 1, -1)
    ],
    legend: {
        box: [346, 180, 516, 257], x0: 357, x1: 394, tx: 397, y: 204, dy: 25,
        items: [
            { label: 'H/MPR(UASB)', color: CYAN, shape: 'rectRot', rot: 0, r: 6 },
            { label: 'H/MPR(PBR)', color: MAGENTA, shape: 'triangle', rot: 270, r: 6.5 }
        ]
    },
    texts: [{ t: 'd', x: 1176, y: 397, font: 'bold 35px' }]
});

// e
makePanel({
    col: 0, row: 2, yMin: 0, yMax: 3.22, yTicks: CONC_TICKS, yMinor: 0.25, decimals: true,
    datasets: vfaSet([FORMIC_E, LACTIC_E, ACETIC_E, PROPIONIC_E, BUTYRIC_E, HMF_E, FURFURAL_E], false),
    texts: [
        { t: 'Concentration', x: 96, y: 725, font: 'bold 19px', rot: -90, align: 'center', base: 'middle', spacing: '0.8px' },
        { t: '(g/L)', x: 121, y: 725, font: 'bold 19px', rot: -90, align: 'center', base: 'middle', spacing: '0.8px' },
        { t: 'UASB', x: 185, y: 658, font: 'bold 17px' },
        { t: 'e', x: 652, y: 648, font: 'bold 35px' }
    ]
});
// f
makePanel({
    col: 1, row: 2, yMin: 0, yMax: 3.22, yTicks: CONC_TICKS, yMinor: 0.25,
    datasets: vfaSet([FORMIC_F, LACTIC_F, ACETIC_F, PROPIONIC_F, BUTYRIC_F, HMF_F, FURFURAL_F], true),
    legend: { box: [346, 54, 516, 212], x0: 357, x1: 394, tx: 399, y: 87, dy: 18.6, items: VFA_LEGEND },
    texts: [
        { t: 'UASB', x: 704, y: 658, font: 'bold 17px' },
        { t: 'f', x: 1176, y: 657, font: 'bold 35px' }
    ]
});

// g
makePanel({
    col: 0, row: 3, yMin: 0, yMax: 3.17, yTicks: CONC_TICKS, yMinor: 0.25, decimals: true,
    datasets: vfaSet([FORMIC_G, LACTIC_G, ACETIC_G, PROPIONIC_G, BUTYRIC_G, HMF_G, FURFURAL_G], false),
    texts: [
        { t: 'Concentration', x: 96, y: 980, font: 'bold 19px', rot: -90, align: 'center', base: 'middle', spacing: '0.8px' },
        { t: '(g/L)', x: 121, y: 980, font: 'bold 19px', rot: -90, align: 'center', base: 'middle', spacing: '0.8px' },
        { t: 'PBR', x: 185, y: 903, font: 'bold 17px' },
        { t: 'g', x: 654, y: 912, font: 'bold 35px' }
    ]
});
// h
makePanel({
    col: 1, row: 3, yMin: 0, yMax: 3.17, yTicks: CONC_TICKS, yMinor: 0.25,
    datasets: vfaSet([FORMIC_H, LACTIC_H, ACETIC_H, PROPIONIC_H, BUTYRIC_H, HMF_H, FURFURAL_H], true),
    legend: { box: [348, 49, 516, 207], x0: 359, x1: 396, tx: 401, y: 81, dy: 18.6, items: VFA_LEGEND },
    texts: [
        { t: 'PBR', x: 702, y: 904, font: 'bold 17px' },
        { t: 'h', x: 1178, y: 915, font: 'bold 35px' }
    ]
});

// i
makePanel({
    col: 0, row: 4, yMin: 0, yMax: 110, yTicks: COD_TICKS, yMinor: 10,
    datasets: [
        series('UASB', COD_DAYS, COD_UASB_I, BLACK, 'rect', 0, 7.5, 0, 0),
        series('PBR', COD_DAYS, COD_PBR_I, RED, 'circle', 0, 6.2, 0, -1)
    ],
    texts: [
        { t: 'CDO removal rate', x: 97, y: 1234, font: 'bold 19px', rot: -90, align: 'center', base: 'middle', spacing: '1.3px' },
        { t: '(%)', x: 124, y: 1236, font: 'bold 19px', rot: -90, align: 'center', base: 'middle', spacing: '1px' },
        { t: 'i', x: 654, y: 1168, font: 'bold 35px' },
        { t: 'Time (d)', x: 437, y: 1424, font: 'bold 18px', align: 'center', base: 'middle' }
    ]
});
// j
makePanel({
    col: 1, row: 4, yMin: 0, yMax: 110, yTicks: COD_TICKS, yMinor: 10,
    datasets: [
        series('UASB', COD_DAYS, COD_UASB_J, BLACK, 'rect', 0, 7.5, 0, 0),
        series('PBR', COD_DAYS, COD_PBR_J, RED, 'circle', 0, 6.2, 0, -1)
    ],
    legend: {
        box: [346, 187, 516, 258], x0: 357, x1: 394, tx: 397, y: 206, dy: 21,
        items: [
            { label: 'UASB', color: BLACK, shape: 'rect', rot: 0, r: 6.5 },
            { label: 'PBR', color: RED, shape: 'rectRot', rot: 0, r: 6.5 }
        ]
    },
    texts: [
        { t: 'j', x: 1174, y: 1178, font: 'bold 35px' },
        { t: 'Time (d)', x: 931, y: 1424, font: 'bold 18px', align: 'center', base: 'middle' }
    ]
});

// caption lines are squeezed to the widths they take in the figure
document.querySelectorAll('#caption .line').forEach(el => {
    const target = Number(el.dataset.w);
    const width = el.getBoundingClientRect().width;
    if (width > 0) el.style.transform = 'scaleX(' + (target / width).toFixed(4) + ')';
});
</script>
</body>
</html>
